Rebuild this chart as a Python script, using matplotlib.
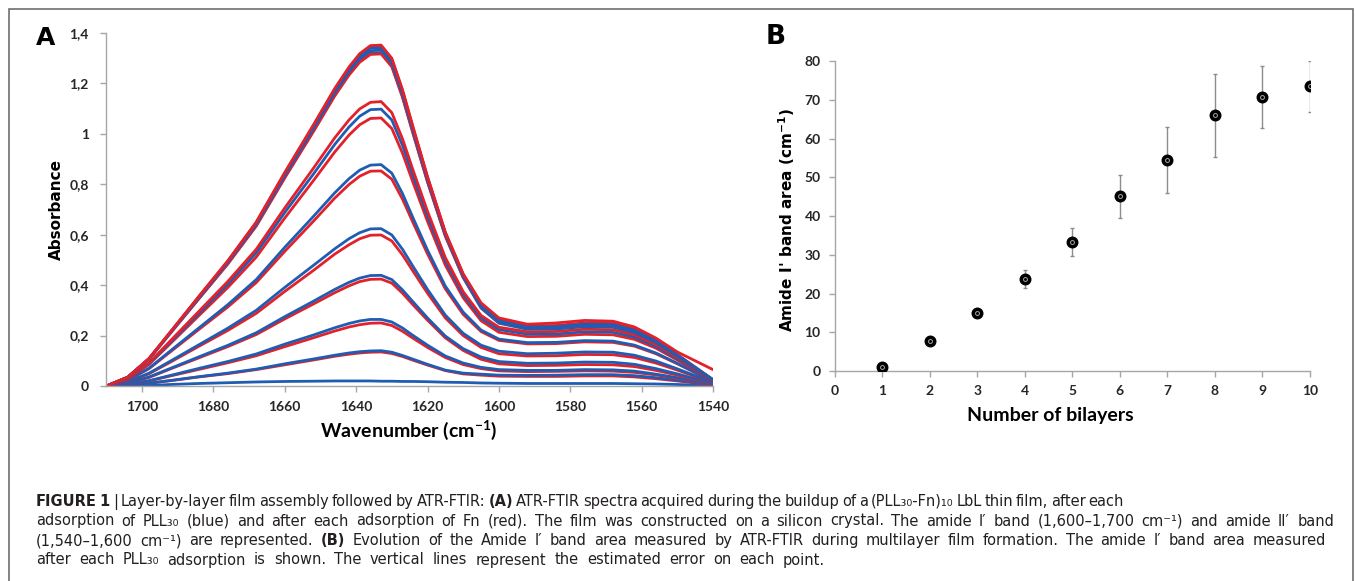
import matplotlib
matplotlib.use("Agg")
import matplotlib.pyplot as plt
from matplotlib.patches import Rectangle

# ---- panel A: ATR-FTIR spectra (absorbance vs wavenumber) ----
wavenumber = [1710, 1704, 1698, 1692, 1684, 1676, 1668, 1660, 1652, 1646, 1642, 1639,
              1636, 1633, 1630, 1627, 1624, 1620, 1615, 1610, 1605, 1600, 1592, 1584,
              1576, 1568, 1562, 1556, 1550, 1545, 1540]

# after each PLL30 adsorption (blue)
pll_1 = [0, 0, 0.002, 0.006, 0.010, 0.013, 0.016, 0.018, 0.019, 0.020, 0.020, 0.020,
         0.020, 0.019, 0.019, 0.018, 0.018, 0.017, 0.015, 0.014, 0.012, 0.011, 0.010, 0.010,
         0.010, 0.010, 0.009, 0.008, 0.006, 0.004, 0.003]
pll_2 = [0, 0.004, 0.011, 0.022, 0.037, 0.051, 0.067, 0.088, 0.107, 0.122, 0.131, 0.136,
         0.139, 0.140, 0.134, 0.121, 0.106, 0.086, 0.063, 0.051, 0.047, 0.043, 0.042, 0.043,
         0.045, 0.045, 0.041, 0.033, 0.023, 0.014, 0.005]
pll_3 = [0, 0.007, 0.021, 0.042, 0.070, 0.097, 0.127, 0.166, 0.202, 0.231, 0.248, 0.258,
         0.264, 0.264, 0.254, 0.230, 0.200, 0.162, 0.119, 0.091, 0.074, 0.065, 0.062, 0.062,
         0.065, 0.064, 0.059, 0.047, 0.033, 0.020, 0.007]
pll_4 = [0, 0.011, 0.036, 0.070, 0.116, 0.161, 0.211, 0.275, 0.336, 0.383, 0.411, 0.428,
         0.438, 0.439, 0.422, 0.381, 0.333, 0.270, 0.198, 0.148, 0.115, 0.097, 0.090, 0.091,
         0.095, 0.094, 0.086, 0.069, 0.048, 0.029, 0.010]
pll_5 = [0, 0.016, 0.051, 0.099, 0.164, 0.229, 0.300, 0.391, 0.478, 0.544, 0.584, 0.608,
         0.623, 0.624, 0.599, 0.542, 0.473, 0.383, 0.281, 0.209, 0.162, 0.138, 0.128, 0.130,
         0.135, 0.134, 0.122, 0.099, 0.068, 0.041, 0.014]
pll_6 = [0, 0.023, 0.071, 0.140, 0.231, 0.322, 0.422, 0.550, 0.672, 0.766, 0.822, 0.856,
         0.876, 0.878, 0.844, 0.763, 0.665, 0.539, 0.396, 0.293, 0.222, 0.186, 0.172, 0.173,
         0.180, 0.178, 0.162, 0.131, 0.090, 0.054, 0.018]
pll_7 = [0, 0.029, 0.089, 0.175, 0.289, 0.403, 0.528, 0.688, 0.840, 0.958, 1.027, 1.070,
         1.096, 1.098, 1.055, 0.954, 0.832, 0.674, 0.495, 0.363, 0.270, 0.224, 0.206, 0.206,
         0.215, 0.213, 0.194, 0.157, 0.108, 0.065, 0.022]
pll_8 = [0, 0.034, 0.107, 0.211, 0.348, 0.485, 0.636, 0.828, 1.012, 1.154, 1.238, 1.289,
         1.320, 1.322, 1.271, 1.149, 1.002, 0.812, 0.596, 0.430, 0.309, 0.249, 0.225, 0.226,
         0.235, 0.233, 0.212, 0.172, 0.118, 0.071, 0.024]
pll_9 = [0, 0.035, 0.108, 0.212, 0.351, 0.489, 0.641, 0.834, 1.020, 1.163, 1.247, 1.299,
         1.330, 1.332, 1.280, 1.157, 1.009, 0.818, 0.601, 0.435, 0.314, 0.253, 0.230, 0.230,
         0.240, 0.238, 0.216, 0.175, 0.120, 0.072, 0.024]
pll_10 = [0, 0.035, 0.109, 0.214, 0.354, 0.492, 0.646, 0.841, 1.028, 1.171, 1.256, 1.309,
          1.340, 1.342, 1.290, 1.166, 1.017, 0.824, 0.605, 0.439, 0.318, 0.258, 0.234, 0.235,
          0.245, 0.243, 0.221, 0.179, 0.123, 0.074, 0.025]

# after each Fn adsorption (red)
fn_1 = [0, 0.004, 0.011, 0.021, 0.036, 0.049, 0.065, 0.084, 0.103, 0.118, 0.126, 0.131,
        0.134, 0.135, 0.129, 0.117, 0.102, 0.083, 0.061, 0.048, 0.043, 0.039, 0.038, 0.038,
        0.040, 0.040, 0.036, 0.029, 0.020, 0.012, 0.004]
fn_2 = [0, 0.007, 0.020, 0.040, 0.066, 0.092, 0.120, 0.156, 0.191, 0.218, 0.234, 0.243,
        0.249, 0.250, 0.240, 0.217, 0.189, 0.153, 0.113, 0.085, 0.069, 0.060, 0.057, 0.058,
        0.060, 0.059, 0.054, 0.044, 0.030, 0.018, 0.006]
fn_3 = [0, 0.011, 0.034, 0.068, 0.112, 0.156, 0.204, 0.266, 0.325, 0.370, 0.397, 0.414,
        0.423, 0.424, 0.408, 0.368, 0.321, 0.261, 0.191, 0.141, 0.106, 0.088, 0.081, 0.082,
        0.085, 0.084, 0.077, 0.062, 0.043, 0.026, 0.009]
fn_4 = [0, 0.016, 0.049, 0.095, 0.158, 0.220, 0.288, 0.375, 0.458, 0.523, 0.560, 0.584,
        0.598, 0.599, 0.575, 0.520, 0.454, 0.368, 0.270, 0.200, 0.153, 0.128, 0.119, 0.120,
        0.125, 0.124, 0.113, 0.091, 0.063, 0.038, 0.013]
fn_5 = [0, 0.022, 0.069, 0.136, 0.225, 0.313, 0.410, 0.534, 0.653, 0.745, 0.799, 0.832,
        0.852, 0.853, 0.820, 0.741, 0.646, 0.524, 0.385, 0.284, 0.216, 0.181, 0.167, 0.168,
        0.175, 0.173, 0.158, 0.128, 0.088, 0.053, 0.018]
fn_6 = [0, 0.028, 0.086, 0.169, 0.280, 0.390, 0.511, 0.666, 0.814, 0.928, 0.995, 1.036,
        1.061, 1.063, 1.021, 0.923, 0.805, 0.653, 0.479, 0.350, 0.259, 0.213, 0.196, 0.197,
        0.205, 0.203, 0.185, 0.150, 0.103, 0.062, 0.021]
fn_7 = [0, 0.029, 0.092, 0.180, 0.297, 0.414, 0.542, 0.706, 0.863, 0.984, 1.055, 1.099,
        1.125, 1.128, 1.084, 0.980, 0.854, 0.693, 0.509, 0.374, 0.280, 0.233, 0.215, 0.216,
        0.225, 0.223, 0.203, 0.164, 0.113, 0.068, 0.023]
fn_8 = [0, 0.034, 0.107, 0.210, 0.347, 0.483, 0.634, 0.825, 1.008, 1.150, 1.233, 1.284,
        1.315, 1.317, 1.266, 1.144, 0.998, 0.809, 0.594, 0.431, 0.313, 0.253, 0.230, 0.230,
        0.240, 0.238, 0.216, 0.175, 0.120, 0.072, 0.024]
fn_9 = [0, 0.035, 0.109, 0.215, 0.355, 0.494, 0.648, 0.844, 1.031, 1.176, 1.261, 1.314,
        1.345, 1.347, 1.295, 1.170, 1.021, 0.828, 0.608, 0.442, 0.323, 0.263, 0.239, 0.240,
        0.250, 0.248, 0.225, 0.183, 0.125, 0.075, 0.025]
fn_10 = [0, 0.035, 0.110, 0.215, 0.357, 0.496, 0.650, 0.847, 1.035, 1.180, 1.265, 1.318,
         1.350, 1.352, 1.300, 1.175, 1.025, 0.830, 0.610, 0.445, 0.330, 0.270, 0.245, 0.250,
         0.260, 0.257, 0.234, 0.190, 0.135, 0.100, 0.065]

pll_spectra = [pll_1, pll_2, pll_3, pll_4, pll_5, pll_6, pll_7, pll_8, pll_9, pll_10]
fn_spectra = [fn_1, fn_2, fn_3, fn_4, fn_5, fn_6, fn_7, fn_8, fn_9, fn_10]

abs_ticks = [0, 0.2, 0.4, 0.6, 0.8, 1.0, 1.2, 1.4]
abs_tick_labels = ["0", "0,2", "0,4", "0,6", "0,8", "1", "1,2", "1,4"]
wn_ticks = [1700, 1680, 1660, 1640, 1620, 1600, 1580, 1560, 1540]

# ---- panel B: amide I' band area vs number of bilayers ----
bilayers = [1, 2, 3, 4, 5, 6, 7, 8, 9, 10]
band_area = [1.1, 7.8, 14.9, 23.8, 33.4, 45.1, 54.5, 66.1, 70.8, 73.5]
band_err = [0.4, 0.5, 0.6, 2.4, 3.6, 5.6, 8.4, 10.7, 8.0, 6.7]

# caption text, a leading * marks a bold word
caption_lines = [
    "*FIGURE *1 | Layer-by-layer film assembly followed by ATR-FTIR: *(A) ATR-FTIR spectra acquired during the buildup of a (PLL₃₀-Fn)₁₀ LbL thin film, after each",
    "adsorption of PLL₃₀ (blue) and after each adsorption of Fn (red). The film was constructed on a silicon crystal. The amide I\u2032 band (1,600\u20131,700 cm\u207b\u00b9) and amide II\u2032 band",
    "(1,540\u20131,600 cm\u207b\u00b9) are represented. *(B) Evolution of the Amide I\u2032 band area measured by ATR-FTIR during multilayer film formation. The amide I\u2032 band area measured",
    "after each PLL₃₀ adsorption is shown. The vertical lines represent the estimated error on each point.",
]

BLUE = "#1F5DB3"
RED = "#E2212B"
AXIS_GREY = "#A6A6A6"
TICK_TXT = "#262626"
CAP_FONT = "DejaVu Sans"

W, H = 1355, 581
fig = plt.figure(figsize=(W / 100, H / 100), dpi=100)


def px_box(left, top, right, bottom):
    return [left / W, 1 - bottom / H, (right - left) / W, (bottom - top) / H]


def style_axes(ax):
    for side in ["top", "right"]:
        ax.spines[side].set_visible(False)
    for side in ["left", "bottom"]:
        ax.spines[side].set_color(AXIS_GREY)
        ax.spines[side].set_linewidth(1.0)
    ax.tick_params(direction="out", length=4, width=1, color=AXIS_GREY,
                   labelcolor=TICK_TXT, labelsize=10)
    for lab in ax.get_xticklabels() + ax.get_yticklabels():
        lab.set_fontfamily("Lato")
        lab.set_fontweight("bold")


# panel A
axA = fig.add_axes(px_box(105.6, 33, 713, 386))
for blue, red in zip(pll_spectra, fn_spectra):
    axA.plot(wavenumber, blue, color=BLUE, lw=2.0, solid_joinstyle="round")
    axA.plot(wavenumber, red, color=RED, lw=2.0, solid_joinstyle="round")
axA.set_xlim(1710.2, 1540)
axA.set_ylim(0, 1.4)
axA.set_xticks(wn_ticks)
axA.set_yticks(abs_ticks)
axA.set_yticklabels(abs_tick_labels)
axA.tick_params(axis="y", pad=8)
axA.tick_params(axis="x", pad=7)
style_axes(axA)

# panel B
axB = fig.add_axes(px_box(834.6, 61.3, 1310, 371))
axB.errorbar(bilayers, band_area, yerr=band_err, fmt="none", ecolor="#8C8C8C",
             elinewidth=1.0, capsize=1.5, capthick=1.0, zorder=2)
axB.plot(bilayers, band_area, "o", ms=7.6, color="black", zorder=3)
axB.plot(bilayers, band_area, "o", ms=2.8, mfc="none", mec="#A8A8A8", mew=0.7, zorder=4)
axB.set_xlim(0, 10)
axB.set_ylim(0, 80)
axB.set_xticks(range(0, 11))
axB.set_yticks(range(0, 81, 10))
axB.tick_params(axis="y", pad=6)
axB.tick_params(axis="x", pad=6)
style_axes(axB)

# axis labels and panel letters
fig.text(56 / W, 1 - 209 / H, "Absorbance", rotation=90, ha="center", va="center",
         fontsize=11, fontweight="bold", family="DejaVu Sans")
fig.text(409 / W, 1 - 430 / H, "Wavenumber (cm$^{\\mathregular{-1}}$)", ha="center", va="center",
         fontsize=14, fontweight="bold", family="Lato")
fig.text(787 / W, 1 - 220 / H, "Amide I' band area (cm$^{\\mathregular{-1}}$)", rotation=90,
         ha="center", va="center", fontsize=11, fontweight="bold", family="DejaVu Sans")
fig.text(1050 / W, 1 - 415 / H, "Number of bilayers", ha="center", va="center",
         fontsize=14, fontweight="bold", family="Lato")
fig.text(46 / W, 1 - 38 / H, "A", ha="center", va="center", fontsize=18,
         fontweight="bold", family="DejaVu Sans")
fig.text(776 / W, 1 - 37 / H, "B", ha="center", va="center", fontsize=19,
         fontweight="bold", family="DejaVu Sans")

# caption: words are laid out one by one so each line spans the same width as in the figure
renderer = fig.canvas.get_renderer()


def split_words(line):
    return [(w[1:], "bold") if w.startswith("*") else (w, "normal") for w in line.split(" ")]


def text_width(s, size, weight="normal"):
    t = fig.text(0, 0, s, fontsize=size, fontweight=weight, family=CAP_FONT)
    w = t.get_window_extent(renderer).width
    t.remove()
    return w


def natural_width(words, size):
    space = text_width("a a", size) - text_width("aa", size)
    return sum(text_width(w, size, wt) for w, wt in words) + space * (len(words) - 1)


cap_left = 36
cap_right = [1124, 1334, 1326, 825]
cap_baseline = [506, 525.5, 545, 564.5]
word_lists = [split_words(line) for line in caption_lines]

# one font size for the whole caption, chosen from the first and last lines
n1 = natural_width(word_lists[0], 10)
n4 = natural_width(word_lists[3], 10)
t1 = cap_right[0] - cap_left
t4 = cap_right[3] - cap_left
cap_size = 10 * (n1 * t1 + n4 * t4) / (n1 * n1 + n4 * n4)

for words, right, base in zip(word_lists, cap_right, cap_baseline):
    widths = [text_width(w, cap_size, wt) for w, wt in words]
    gap = (right - cap_left - sum(widths)) / (len(words) - 1)
    x = cap_left
    for (w, wt), wd in zip(words, widths):
        fig.text(x / W, 1 - base / H, w, ha="left", va="baseline", fontsize=cap_size,
                 fontweight=wt, family=CAP_FONT, color="#231F20")
        x += wd + gap

# outer frame
fig.add_artist(Rectangle((9 / W, -0.05), (1353 - 9) / W, 1.05 - 9 / H, fill=False,
                         edgecolor="#6E6E6E", lw=1.2, transform=fig.transFigure))

fig.savefig("out.png", dpi=100)
